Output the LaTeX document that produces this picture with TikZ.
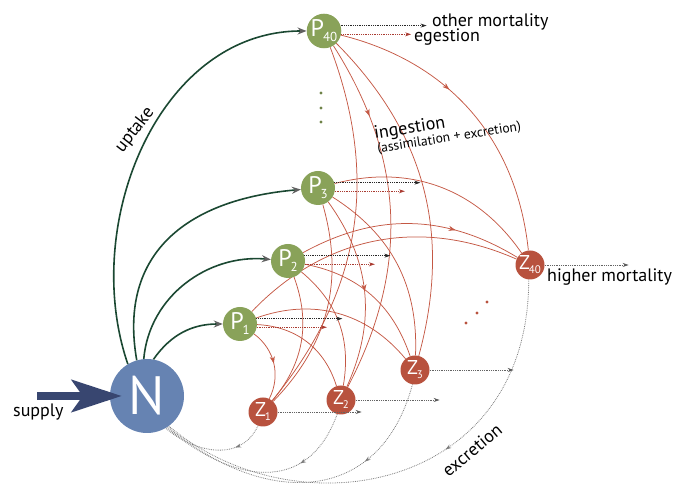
\documentclass[tikz,border=0pt]{standalone}
\usepackage{fontspec}
\setmainfont{PT Sans}
\usetikzlibrary{arrows.meta,decorations.markings,backgrounds}

\definecolor{nblue}{RGB}{102,131,178}
\definecolor{pgreen}{RGB}{137,162,89}
\definecolor{zred}{RGB}{184,82,62}
\definecolor{ingred}{RGB}{196,88,68}
\definecolor{egred}{RGB}{170,60,50}
\definecolor{updark}{RGB}{27,72,50}
\definecolor{supblue}{RGB}{56,70,112}
\definecolor{mortgray}{RGB}{40,40,40}
\definecolor{excgray}{RGB}{125,125,125}

\newcommand{\plab}[1]{{\fontsize{24}{24}\selectfont P}\kern-1pt\raisebox{-5pt}{\fontsize{13}{13}\selectfont #1}}
\newcommand{\zlab}[1]{{\fontsize{20}{20}\selectfont Z}\kern-1pt\raisebox{-4pt}{\fontsize{11}{11}\selectfont #1}}

\tikzset{
  nnode/.style={circle, fill=nblue, minimum size=74pt, inner sep=0pt, text=white,
    font=\fontsize{54}{54}\selectfont},
  pnode/.style={circle, fill=pgreen, minimum size=34pt, inner sep=0pt, text=white},
  znode/.style={circle, fill=zred, minimum size=29pt, inner sep=0pt, text=white},
  lbl/.style={font=\fontsize{18}{21}\selectfont, text=black, inner sep=0pt},
  uptake/.style={draw=updark, line width=1.6pt,
    -{Stealth[length=9pt,width=7pt,color=gray!75!black]}},
  ingest/.style={draw=ingred, line width=0.75pt},
  ingest mid/.style={postaction={decorate, decoration={markings,
    mark=at position #1 with {\arrow{Stealth[length=7pt,width=5pt,color=ingred]}}}}},
  egest/.style={draw=egred, line width=0.8pt, densely dotted,
    -{Stealth[length=6pt,width=4pt,color=egred]}},
  mort/.style={draw=mortgray, line width=0.8pt, densely dotted,
    -{Stealth[length=6pt,width=4pt,color=mortgray]}},
  zmort/.style={draw=excgray!80!black, line width=0.8pt, densely dotted,
    -{Stealth[length=6pt,width=4pt,color=excgray!70!black]}},
  excr/.style={draw=excgray, line width=0.8pt, densely dotted},
  excr mid/.style={postaction={decorate, decoration={markings,
    mark=at position #1 with {\arrow{Stealth[length=6pt,width=4pt,color=excgray]}}}}},
  supply/.style={draw=supblue, line width=8pt,
    -{Stealth[length=50pt,width=32pt,inset=11pt,color=supblue]}}
}

\begin{document}
\begin{tikzpicture}[x=1pt,y=1pt]
\useasboundingbox (0,0) rectangle (673,484);
\clip (0,0) rectangle (673,484);

% pools
\node[nnode] (N) at (147,88) {N};
\node[pnode] (P1) at (240,160) {\plab{1}};
\node[pnode] (P2) at (288,223) {\plab{2}};
\node[pnode] (P3) at (318,296) {\plab{3}};
\node[pnode] (P40) at (324,453) {\plab{40}};
\node[znode] (Z1) at (263,72) {\zlab{1}};
\node[znode] (Z2) at (341,84) {\zlab{2}};
\node[znode] (Z3) at (415,114) {\zlab{3}};
\node[znode] (Z40) at (530,219) {\zlab{40}};

% ellipsis dots
\foreach \y in {391,376,362}
  \fill[pgreen!80!black] (321,\y) circle (1.6pt);
\foreach \x/\y in {487/182,477/171,466/161}
  \fill[zred] (\x,\y) circle (1.6pt);

\begin{scope}[on background layer]
  % ingestion
  \foreach \p/\z/\b in {P40/Z1/30,P40/Z2/30,P40/Z3/30,P40/Z40/35,
                        P3/Z1/30,P3/Z2/30,P3/Z3/30,P3/Z40/35,
                        P2/Z1/30,P2/Z2/30,P2/Z3/30,P2/Z40/30,
                        P1/Z1/40,P1/Z2/35,P1/Z3/35,P1/Z40/35}
    \draw[ingest] (\p) to[bend left=\b] (\z);
  \foreach \p/\z/\b/\m in {P40/Z40/35/0.4,P40/Z2/30/0.22,P3/Z2/30/0.5,
                           P2/Z40/30/0.7,P1/Z1/40/0.5}
    \path[ingest mid=\m] (\p) to[bend left=\b] (\z);

  % excretion
  \draw[excr, excr mid=0.3] (Z1.-110) to[out=-115,in=-40,looseness=1.1] (N.-60);
  \draw[excr, excr mid=0.3] (Z2.-105) to[out=-110,in=-40,looseness=1.3] (N.-58);
  \draw[excr, excr mid=0.3] (Z3.-100) to[out=-105,in=-40,looseness=1.3] (N.-56);
  \draw[excr, excr mid=0.4] (Z40.-95) to[out=-90,in=-40,out looseness=1.4,in looseness=1.1] (N.-54);
\end{scope}

% uptake
\draw[uptake] (N.121) to[out=109,in=180] (P40);
\draw[uptake] (N.106) to[out=100,in=185,looseness=1.2] (P3);
\draw[uptake] (N.95) to[out=85,in=175] (P2);
\draw[uptake] (N.80) to[out=55,in=180] (P1);

% losses from phytoplankton
\foreach \p in {P1,P2,P3,P40} {
  \draw[mort] (\p.18) -- ++(86,0);
  \draw[egest] (\p.-11) -- ++(70,0);
}
\foreach \z in {Z1,Z2,Z3,Z40}
  \draw[zmort] (\z.east) -- ++(84,0);

% supply
\coordinate (src) at (37,88);
\draw[supply, shorten >=-12pt] (src) -- (N);

% labels
\node[lbl, anchor=base west] (supplylab) at (13,67) {supply};
\node[lbl, anchor=base west] (othermort) at (432,457) {other mortality};
\node[lbl, anchor=base west] (egestlab) at (414,442) {egestion};
\node[lbl, anchor=base west, rotate=9] (ingestlab) at (375,345) {ingestion};
\node[lbl, anchor=base west, rotate=9, font=\fontsize{13.5}{16}\selectfont] (assimlab) at (378,331) {(assimilation + excretion)};
\node[lbl, rotate=52] (uptakelab) at (135,354) {uptake};
\node[lbl, anchor=base west] (highermort) at (547,202) {higher mortality};
\node[lbl, rotate=40] (excrlab) at (472,34) {excretion};
\end{tikzpicture}
\end{document}
